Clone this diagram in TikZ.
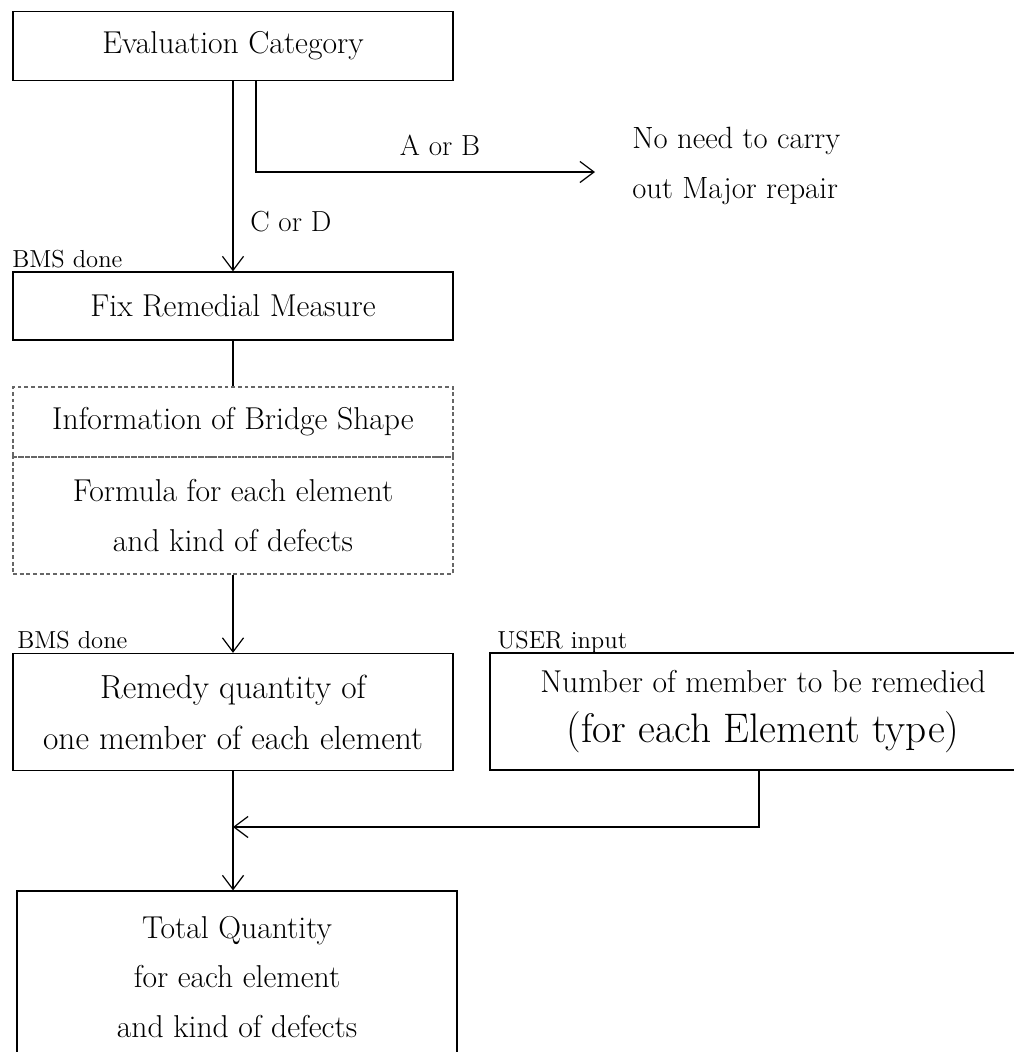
\documentclass[tikz,border=0pt]{standalone}
\usepackage{tikz}
\usetikzlibrary{positioning, arrows.meta}

\begin{document}
\begin{tikzpicture}[x=0.02cm, y=-0.02cm,
    box/.style={rectangle, draw=black, line width=0.7pt, minimum width=8.8cm, align=center, inner sep=0pt, font=\fontsize{18}{28}\selectfont},
    dashbox/.style={box, draw=black!60, dash pattern=on 2.2pt off 1.6pt},
    tag/.style={anchor=base west, inner sep=0pt, font=\fontsize{14}{16}\selectfont},
    lbl/.style={inner sep=0pt, align=left, font=\fontsize{16.5}{28}\selectfont},
    arrow/.style={-{Straight Barb[length=8pt, width=12pt]}, line width=0.7pt}
]
    \useasboundingbox (0,0) rectangle (1014,1052);

    % === EVALUATION ===
    \node[box, minimum height=1.38cm] (eval) at (233,46) {Evaluation Category};

    % === FIX REMEDIAL MEASURE ===
    \node[box, minimum height=1.36cm] (fix) at (233,306) {Fix Remedial Measure};
    \node[tag] (bms1) at (12,267) {BMS done};

    % === BRANCHES ===
    \draw[arrow] (eval) -- (fix);
    \node[lbl, anchor=west] (cd) at (250,222) {C or D};
    \coordinate (abturn) at (256,172);
    \coordinate (abtip) at (595,172);
    \draw[arrow] (eval.south -| abturn) -- (abturn) -- (abtip);
    \node[lbl] (ab) at (440,145) {A or B};
    \node[lbl, anchor=west, font=\fontsize{17.5}{28}\selectfont] (noneed) at (632,166) {No need to carry\\out Major repair};

    % === BRIDGE DATA (dashed) ===
    \node[dashbox, minimum height=1.4cm] (info) at (233,422) {Information of Bridge Shape};
    \node[dashbox, minimum height=2.34cm] (formula) at (233,515.5) {Formula for each element\\and kind of defects};
    \draw[line width=0.7pt] (fix) -- (info);

    % === REMEDY QUANTITY ===
    \node[box, minimum height=2.34cm, font=\fontsize{19}{29}\selectfont] (remedy) at (233,712) {Remedy quantity of\\one member of each element};
    \node[tag] (bms2) at (17,648) {BMS done};
    \draw[arrow] (formula) -- (remedy);

    % === USER INPUT ===
    \node[box, minimum width=10.92cm, minimum height=2.34cm] (number) at (763,711.5) {Number of member to be remedied\\{\fontsize{23.5}{29}\selectfont (for each Element type)}};
    \node[tag] (user) at (497,648) {USER input};

    % === TOTAL ===
    \node[box, minimum height=3.44cm] (total) at (237,977) {Total Quantity\\for each element\\and kind of defects};
    \draw[arrow] (remedy.south) -- (remedy.south |- total.north);

    \coordinate (numdrop) at (759,827);
    \coordinate (join) at (233,827);
    \draw[arrow] (number.south -| numdrop) -- (numdrop) -- (join);

\end{tikzpicture}
\end{document}
